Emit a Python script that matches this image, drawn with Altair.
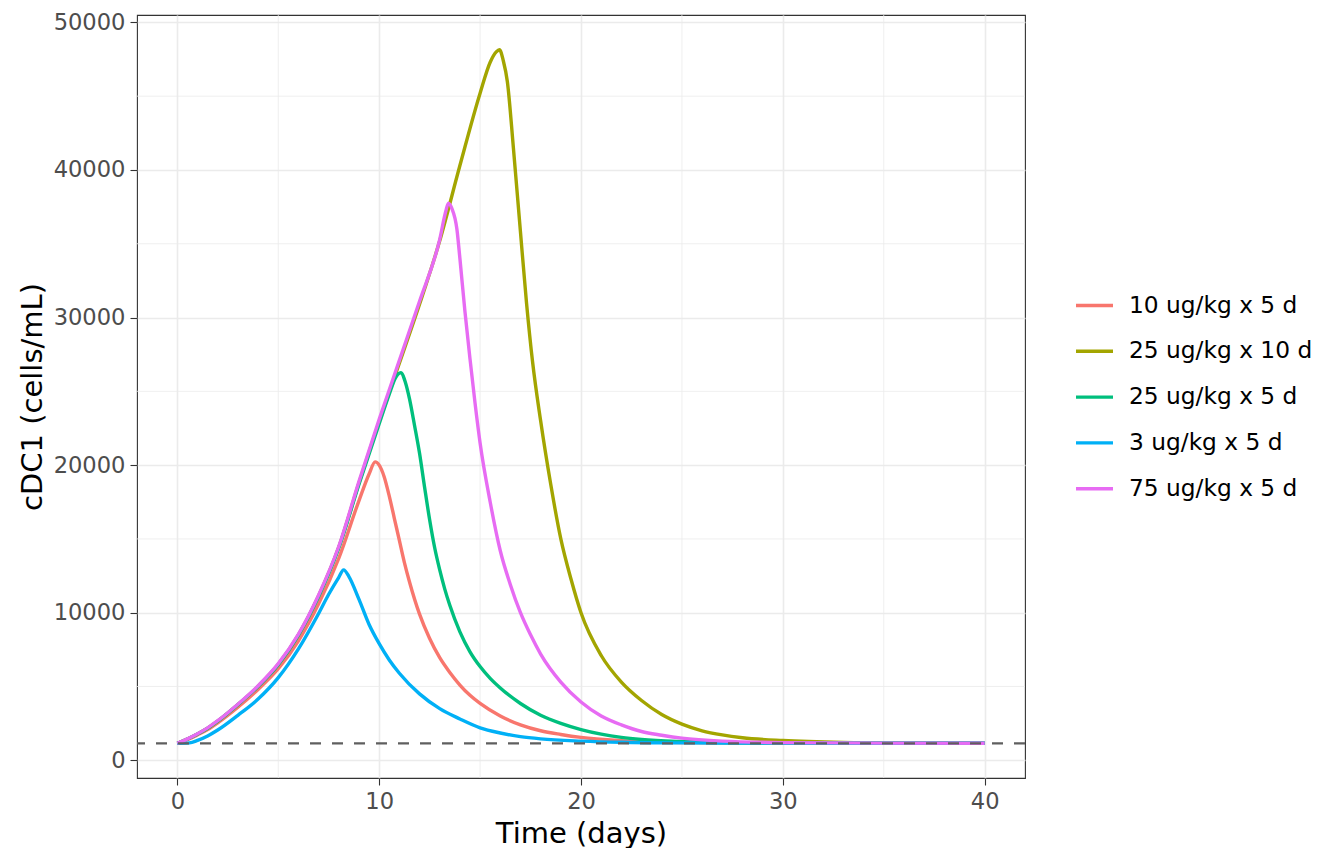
import altair as alt
import pandas as pd

# regimens, in ggplot legend order, with default hue colours
regimens = ["10 ug/kg x 5 d", "25 ug/kg x 10 d", "25 ug/kg x 5 d", "3 ug/kg x 5 d", "75 ug/kg x 5 d"]
regimen_colors = ["#F8766D", "#A3A500", "#00BF7D", "#00B0F6", "#E76BF3"]

# values (time in days, cDC1 in cells/mL)
t_10x5 = [0, 0.5, 1, 1.5, 2, 3, 4, 5, 6, 7, 8, 9, 9.5, 9.8, 10.0, 10.25, 10.5, 10.75, 11.0, 11.25,
          11.5, 12.0, 12.5, 13.0, 13.5, 14.0, 14.5, 15, 16, 17, 18, 19, 20, 22, 25, 30, 40]
v_10x5 = [1150, 1400, 1720, 2080, 2540, 3600, 4800, 6200, 8100, 10600, 13700, 17600, 19400, 20220,
          20000, 19200, 17900, 16400, 14900, 13400, 12100, 9900, 8250, 6950, 5950, 5100, 4400, 3850,
          3000, 2400, 2000, 1750, 1550, 1330, 1200, 1160, 1150]

t_25x10 = [0, 0.5, 1, 1.5, 2, 3, 4, 5, 6, 7, 8, 9, 10, 11, 12, 13, 14, 15, 15.5, 15.8, 15.96, 16.15,
           16.35, 16.65, 17.0, 17.3, 17.6, 18.0, 18.5, 19.0, 19.5, 20, 21, 22, 23, 24, 25, 26, 27,
           28, 30, 33, 36, 40]
v_25x10 = [1150, 1440, 1780, 2170, 2650, 3770, 5020, 6500, 8500, 11150, 14450, 18800, 22950, 26900,
           30900, 35200, 40300, 45200, 47300, 48000, 48150, 47400, 46000, 41500, 35800, 31000, 27000,
           23000, 18700, 15000, 12300, 10000, 7100, 5300, 4050, 3100, 2450, 2000, 1720, 1530, 1340,
           1210, 1170, 1155]

t_25x5 = [0, 0.5, 1, 1.5, 2, 3, 4, 5, 6, 7, 8, 9, 10, 10.5, 10.8, 11.07, 11.3, 11.5, 11.75, 12.0,
          12.25, 12.5, 12.75, 13.0, 13.25, 13.5, 14.0, 14.5, 15.0, 15.5, 16, 17, 18, 19, 20, 21, 22,
          23, 25, 28, 32, 40]
v_25x5 = [1150, 1440, 1780, 2170, 2650, 3770, 5000, 6480, 8480, 11100, 14400, 18700, 22800, 24800,
          25900, 26260, 25600, 24500, 22700, 20800, 18500, 16300, 14400, 12900, 11600, 10500, 8700,
          7350, 6350, 5550, 4900, 3850, 3050, 2500, 2080, 1770, 1550, 1410, 1270, 1190, 1160, 1150]

t_3x5 = [0, 0.6, 1, 1.5, 2, 3, 4, 5, 6, 7, 7.5, 8, 8.24, 8.5, 9.0, 9.5, 10.0, 10.5, 11, 12, 13, 14,
         15, 16, 17, 18, 20, 22, 25, 30, 40]
v_3x5 = [1150, 1180, 1350, 1650, 2050, 3050, 4150, 5600, 7550, 9950, 11250, 12400, 12900, 12450,
         10900, 9200, 7900, 6800, 5900, 4500, 3500, 2800, 2200, 1850, 1600, 1450, 1300, 1220, 1180,
         1160, 1150]

t_75x5 = [0, 0.5, 1, 1.5, 2, 3, 4, 5, 6, 7, 8, 9, 10, 11, 12, 13, 13.3, 13.43, 13.6, 13.85, 14.0,
          14.25, 14.5, 14.75, 15.0, 15.5, 16.0, 16.5, 17.0, 17.5, 18.0, 19.0, 20, 21, 22, 23, 24, 25,
          27, 30, 35, 40]
v_75x5 = [1150, 1450, 1800, 2200, 2680, 3800, 5050, 6550, 8550, 11200, 14500, 18900, 23100, 27100,
          31100, 35300, 37200, 37750, 37400, 36000, 34000, 30400, 27200, 24200, 21500, 17500, 14200,
          11900, 10000, 8500, 7200, 5300, 3950, 3000, 2400, 1950, 1700, 1500, 1300, 1200, 1160, 1150]

baseline = 1150

x_major = [0, 10, 20, 30, 40]
x_minor = [5, 15, 25, 35]
y_major = [0, 10000, 20000, 30000, 40000, 50000]
y_minor = [5000, 15000, 25000, 35000, 45000]

series = [(t_10x5, v_10x5), (t_25x10, v_25x10), (t_25x5, v_25x5), (t_3x5, v_3x5), (t_75x5, v_75x5)]
frames = []
for name, (t, v) in zip(regimens, series):
    frames.append(pd.DataFrame({"time": t, "cdc1": v, "regimen": name}))
df = pd.concat(frames, ignore_index=True)

# ggplot-style 5% expansion
t_lo, t_hi = df["time"].min(), df["time"].max()
v_lo, v_hi = df["cdc1"].min(), df["cdc1"].max()
x_scale = alt.Scale(domain=[t_lo - 0.05 * (t_hi - t_lo), t_hi + 0.05 * (t_hi - t_lo)], nice=False, zero=False)
y_scale = alt.Scale(domain=[v_lo - 0.05 * (v_hi - v_lo), v_hi + 0.05 * (v_hi - v_lo)], nice=False, zero=False)

# same axis objects on every layer so the merged axes stay
x_axis = alt.Axis(values=x_major, title="Time (days)", format="d",
                  titleY=64, titleBaseline="alphabetic")
y_axis = alt.Axis(values=y_major, title="cDC1 (cells/mL)", format="d",
                  titleX=-96, titleBaseline="alphabetic")

minor_x = (
    alt.Chart(pd.DataFrame({"x": x_minor}))
    .mark_rule(color="#EBEBEB", strokeWidth=0.8)
    .encode(x=alt.X("x:Q", scale=x_scale, axis=x_axis))
)

minor_y = (
    alt.Chart(pd.DataFrame({"y": y_minor}))
    .mark_rule(color="#EBEBEB", strokeWidth=0.8)
    .encode(y=alt.Y("y:Q", scale=y_scale, axis=y_axis))
)

lines = (
    alt.Chart(df)
    .mark_line(strokeWidth=3.4, interpolate="monotone")
    .encode(
        x=alt.X("time:Q", scale=x_scale, axis=x_axis),
        y=alt.Y("cdc1:Q", scale=y_scale, axis=y_axis),
        color=alt.Color("regimen:N",
                        scale=alt.Scale(domain=regimens, range=regimen_colors),
                        legend=alt.Legend(title=None)),
    )
)

base_rule = (
    alt.Chart(pd.DataFrame({"v": [baseline]}))
    .mark_rule(color="#5F5F5F", strokeDash=[11, 11], strokeWidth=2.2)
    .encode(y=alt.Y("v:Q", scale=y_scale, axis=y_axis))
)

chart = (
    alt.layer(minor_x, minor_y, lines, base_rule)
    .properties(
        width=888,
        height=763,
        autosize=alt.AutoSizeParams(type="none"),
        padding={"left": 129, "top": 7, "right": 300, "bottom": 70},
    )
    .configure_view(stroke="#333333", strokeWidth=1.1)
    .configure_axis(
        grid=True, gridColor="#EBEBEB", gridWidth=1.6,
        domain=False,
        tickColor="#333333", tickSize=7, tickWidth=1.1,
        labelFont="DejaVu Sans", labelFontSize=22.6, labelColor="#4D4D4D", labelPadding=5,
        titleFont="DejaVu Sans", titleFontSize=29, titleFontWeight="normal", titleColor="black",
    )
    .configure_legend(
        orient="none", legendX=937, legendY=270, padding=0,
        symbolType="stroke", symbolSize=1369, symbolStrokeWidth=3.4,
        labelFont="DejaVu Sans", labelFontSize=23.3, labelColor="black",
        labelOffset=14, labelLimit=400, rowPadding=13.8,
    )
)

chart.save("out.html", embed_options={"renderer": "svg", "actions": False})
